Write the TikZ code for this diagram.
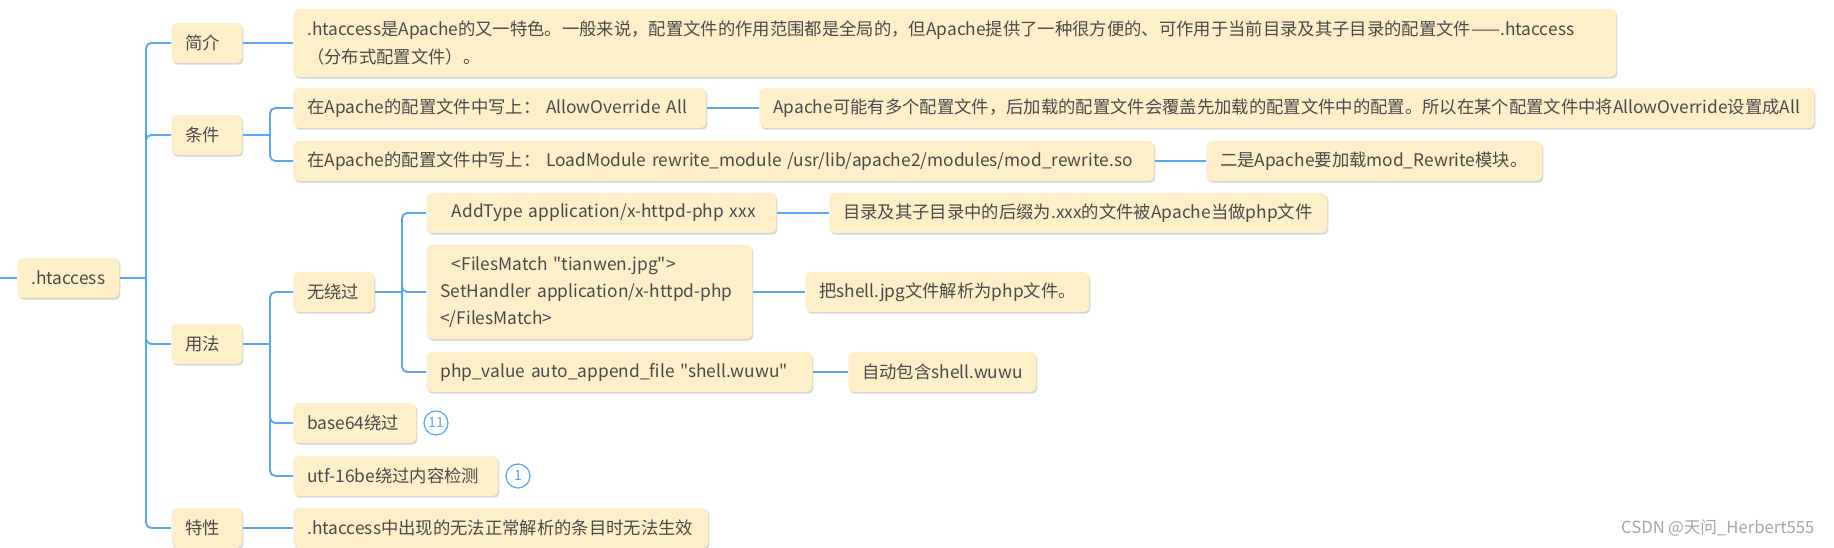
\documentclass[tikz,border=0pt]{standalone}
\usepackage{fontspec}
\setmainfont{Noto Sans CJK SC}[Ligatures=TeXOff, WordSpace=0.85]
\usepackage{xcolor}
\usetikzlibrary{positioning, shadows}
\definecolor{boxfill}{HTML}{FDEFC8}
\definecolor{linkblue}{HTML}{55A8F8}
\definecolor{txtgray}{HTML}{4A4A4A}

\begin{document}
\begin{tikzpicture}[x=0.75pt, y=-0.75pt,
      topic/.style={anchor=west, fill=boxfill, rounded corners=4pt, text=txtgray,
          font=\fontsize{13}{20.5}\selectfont, inner xsep=10.5pt, inner ysep=2pt,
          minimum height=30pt, align=left,
          drop shadow={shadow xshift=0.9pt, shadow yshift=-1.3pt, opacity=0.3, fill=black!55}},
      boxw/.style={text width={(#1-28)*0.75pt}},
      boxh/.style={minimum height={#1*0.75pt}},
      conn/.style={draw=linkblue, line width=1.4pt},
      fork/.style={conn, rounded corners=4pt},
      badge/.style={circle, draw=linkblue, line width=0.9pt, fill=white, text=linkblue,
          minimum size=18pt, inner sep=0pt, font=\fontsize{10.5}{12}\selectfont},
    ]
    \useasboundingbox (0,0) rectangle (1834,548);

    % ---- Root (LEFT) ----
    \coordinate (edge) at (0,278);
    \node[topic, boxw=102] (ht) at (17,278) {.htaccess};

    % ---- First level, x = 171 ----
    \node[topic, boxw=71] (intro) at (171, 43) {简介};
    \node[topic, boxw=71] (cond)  at (171,135) {条件};
    \node[topic, boxw=71] (usage) at (171,344) {用法};
    \node[topic, boxw=71] (prop)  at (171,528) {特性};

    % ---- Second level, x = 293 ----
    \node[topic, boxw=1323, boxh=68] (introT) at (293,43)
    {.htaccess是Apache的又一特色。一般来说，配置文件的作用范围都是全局的，但Apache提供了一种很方便的、可作用于当前目录及其子目录的配置文件——.htaccess\\（分布式配置文件）。};
    \node[topic, boxw=413]  (condA) at (293,108) {在Apache的配置文件中写上： AllowOverride All};
    \node[topic, boxw=861]  (condB) at (293,161) {在Apache的配置文件中写上： LoadModule rewrite\_module /usr/lib/apache2/modules/mod\_rewrite.so};
    \node[topic, boxw=81]   (nobyp) at (293,292) {无绕过};
    \node[topic, boxw=123]  (b64)   at (293,423) {base64绕过};
    \node[topic, boxw=205]  (utf)   at (293,476) {utf-16be绕过内容检测};
    \node[topic, boxw=415]  (propT) at (293,528) {.htaccess中出现的无法正常解析的条目时无法生效};

    % badges beside the bypass topics
    \node[badge] (n11) at (436,423) {11};
    \node[badge] (n1)  at (518,476) {1};

    % ---- Third level ----
    \node[topic, boxw=1055] (condAd) at (759,108) {Apache可能有多个配置文件，后加载的配置文件会覆盖先加载的配置文件中的配置。所以在某个配置文件中将AllowOverride设置成All};
    \node[topic, boxw=336]  (condBd) at (1206,161) {二是Apache要加载mod\_Rewrite模块。};
    \node[topic, boxw=350]  (addtype) at (426,213) {\ \ AddType application/x-httpd-php xxx};
    \node[topic, boxw=326, boxh=94] (fmatch) at (426,292)
    {\ \ <FilesMatch "tianwen.jpg">\\SetHandler application/x-httpd-php\\</FilesMatch>};
    \node[topic, boxw=386]  (phpval) at (426,372) {php\_value auto\_append\_file "shell.wuwu"};

    % ---- Fourth level ----
    \node[topic, boxw=498] (addtypeD) at (829,213) {目录及其子目录中的后缀为.xxx的文件被Apache当做php文件};
    \node[topic, boxw=284] (fmatchD)  at (805,292) {把shell.jpg文件解析为php文件。};
    \node[topic, boxw=188] (phpvalD)  at (848,372) {自动包含shell.wuwu};

    % watermark
    \node[anchor=east, text=gray!70, font=\fontsize{12.5}{14}\selectfont] (mark) at (1819,528) {CSDN @天问\_Herbert555};

    % ---- Connectors ----
    \coordinate (htJ)    at (146,278);
    \coordinate (condJ)  at (270,135);
    \coordinate (usageJ) at (270,344);
    \coordinate (nobypJ) at (402,292);

    \draw[conn] (edge) -- (ht.west);
    \draw[conn] (ht.east) -- (htJ);
    \foreach \c in {intro, cond, usage, prop}
    \draw[fork] (htJ) |- (\c.west);

    \draw[conn] (cond.east) -- (condJ);
    \foreach \c in {condA, condB}
    \draw[fork] (condJ) |- (\c.west);

    \draw[conn] (usage.east) -- (usageJ);
    \foreach \c in {nobyp, b64, utf}
    \draw[fork] (usageJ) |- (\c.west);

    \draw[conn] (nobyp.east) -- (nobypJ);
    \foreach \c in {addtype, fmatch, phpval}
    \draw[fork] (nobypJ) |- (\c.west);

    % straight links to the notes
    \draw[conn] (intro.east)   -- (introT.west);
    \draw[conn] (prop.east)    -- (propT.west);
    \draw[conn] (condA.east)   -- (condAd.west);
    \draw[conn] (condB.east)   -- (condBd.west);
    \draw[conn] (addtype.east) -- (addtypeD.west);
    \draw[conn] (fmatch.east)  -- (fmatchD.west);
    \draw[conn] (phpval.east)  -- (phpvalD.west);

  \end{tikzpicture}
\end{document}
